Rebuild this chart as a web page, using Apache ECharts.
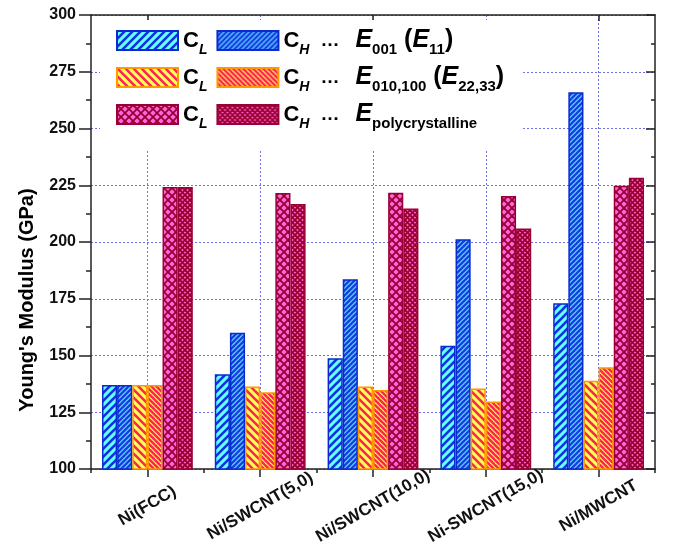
<!DOCTYPE html>
<html>
<head>
<meta charset="utf-8">
<script src="https://cdn.jsdelivr.net/npm/echarts@6/dist/echarts.min.js"></script>
<style>
html,body{margin:0;padding:0;background:#fff;}
#chart{width:674px;height:553px;}
</style>
</head>
<body>
<div id="chart"></div>
<script>
// ---- data ----
const categories = ['Ni(FCC)', 'Ni/SWCNT(5,0)', 'Ni/SWCNT(10,0)', 'Ni-SWCNT(15,0)', 'Ni/MWCNT'];
const e001_CL = [137, 141.7, 148.8, 154.3, 173.0];
const e001_CH = [137, 160.0, 183.6, 201.2, 266.0];
const e010_CL = [137, 136.3, 136.3, 135.5, 138.9];
const e010_CH = [137, 133.8, 134.8, 129.7, 144.8];
const poly_CL = [224.2, 221.6, 221.7, 220.3, 224.8];
const poly_CH = [224.2, 216.7, 214.8, 206.0, 228.3];
const yTicks = { min: 100, max: 300, step: 25 };
const seriesNames = ['CL_001', 'CH_001', 'CL_010', 'CH_010', 'CL_poly', 'CH_poly'];

// ---- patterns ----
function tile(p, bg, fg, lw, dirs) {
  const c = document.createElement('canvas');
  c.width = p; c.height = p;
  const g = c.getContext('2d');
  g.fillStyle = bg; g.fillRect(0, 0, p, p);
  g.strokeStyle = fg; g.lineWidth = lw; g.lineCap = 'square';
  dirs.forEach(d => {
    [-p, 0, p].forEach(k => {
      g.beginPath();
      if (d === '/') { g.moveTo(k, p); g.lineTo(k + p, 0); }
      else { g.moveTo(k, 0); g.lineTo(k + p, p); }
      g.stroke();
    });
  });
  return { image: c, repeat: 'repeat' };
}
const pats = [
  tile(8, '#66ffff', '#1133dd', 2.6, ['/']),
  tile(5, '#55ccff', '#1a3ae0', 2.2, ['/']),
  tile(8, '#ffff55', '#ff2255', 2.6, ['\\']),
  tile(5, '#ffee55', '#ff2255', 2.3, ['\\']),
  tile(8, '#ff66dd', '#990033', 1.8, ['/', '\\']),
  tile(5, '#ff66cc', '#990033', 1.8, ['/', '\\'])
];
const borders = ['#0a2ad0', '#0a2ad0', '#ff9900', '#ff9900', '#990033', '#990033'];
const values = [e001_CL, e001_CH, e010_CL, e010_CH, poly_CL, poly_CH];

const FONT = "'Liberation Sans', Arial, sans-serif";
const GRID = '#6f6fee';

const rich = {
  c: { fontFamily: FONT, fontWeight: 'bold', fontSize: 22, lineHeight: 34, color: '#000' },
  s: { fontFamily: FONT, fontWeight: 'bold', fontStyle: 'italic', fontSize: 14, lineHeight: 12, verticalAlign: 'bottom', color: '#000' },
  d: { fontFamily: FONT, fontWeight: 'bold', fontSize: 19, lineHeight: 34, padding: [0, 16, 0, 11], color: '#000' },
  e: { fontFamily: FONT, fontWeight: 'bold', fontStyle: 'italic', fontSize: 25, lineHeight: 34, color: '#000' },
  n: { fontFamily: FONT, fontWeight: 'bold', fontSize: 15, lineHeight: 10, verticalAlign: 'bottom', color: '#000' },
  p: { fontFamily: FONT, fontWeight: 'bold', fontSize: 25, lineHeight: 34, color: '#000' }
};
const legendText = {
  CL_001: '{c|C}{s|L}', CL_010: '{c|C}{s|L}', CL_poly: '{c|C}{s|L}',
  CH_001: '{c|C}{s|H}{d|…}{e|E}{n|001}{p| (}{e|E}{n|11}{p|)}',
  CH_010: '{c|C}{s|H}{d|…}{e|E}{n|010,100}{p| (}{e|E}{n|22,33}{p|)}',
  CH_poly: '{c|C}{s|H}{d|…}{e|E}{n|polycrystalline}'
};
function mkLegend(top, names) {
  return {
    left: 116, top: top, orient: 'horizontal', padding: 0,
    icon: 'rect',
    itemWidth: 61, itemHeight: 19, itemGap: 9, selectedMode: false,
    data: names, formatter: n => legendText[n],
    textStyle: { rich: rich, fontFamily: FONT }
  };
}

const chart = echarts.init(document.getElementById('chart'), null, { renderer: 'canvas' });
const option = {
  animation: false,
  backgroundColor: '#fff',
  grid: { left: 91, right: 19, top: 15, bottom: 84, containLabel: false },
  graphic: [{ type: 'rect', z: 1, shape: { x: 100, y: 20, width: 423, height: 130 }, style: { fill: '#fff' } }],
  legend: [
    mkLegend(28, [seriesNames[0], seriesNames[1]]),
    mkLegend(65, [seriesNames[2], seriesNames[3]]),
    mkLegend(102, [seriesNames[4], seriesNames[5]])
  ],
  xAxis: [
    {
      type: 'category', data: categories, position: 'bottom',
      axisLine: { show: true, lineStyle: { color: '#222', width: 1.5 } },
      axisTick: { show: false },
      axisLabel: { interval: 0, rotate: 30, align: 'center', verticalAlign: 'middle', margin: 37,
        fontFamily: FONT, fontWeight: 'bold', fontSize: 17, color: '#111' },
      splitLine: { show: false }
    },
    {
      type: 'value', min: 0, max: categories.length, interval: 1, position: 'bottom',
      axisLine: { show: false },
      axisTick: { show: true, length: 4, lineStyle: { color: '#222', width: 1.5 } },
      minorTick: { show: true, splitNumber: 2, length: 8, lineStyle: { color: '#222', width: 1.5 } },
      axisLabel: { show: false },
      splitLine: { show: false },
      minorSplitLine: { show: true, lineStyle: { color: GRID, width: 1, type: [2, 2] } }
    },
    {
      type: 'category', data: categories, position: 'top',
      axisLine: { show: true, lineStyle: { color: '#222', width: 1.5 } },
      axisTick: { show: true, inside: true, alignWithLabel: true, length: 6, lineStyle: { color: '#222', width: 1.5 } },
      axisLabel: { show: false },
      splitLine: { show: false }
    }
  ],
  yAxis: [
    {
      type: 'value', min: yTicks.min, max: yTicks.max, interval: yTicks.step, position: 'left',
      name: "Young's Modulus (GPa)", nameLocation: 'middle', nameGap: 54,
      nameTextStyle: { fontFamily: FONT, fontWeight: 'bold', fontSize: 20, color: '#000', padding: [0, 116, 0, 0] },
      axisLine: { show: true, lineStyle: { color: '#222', width: 1.5 } },
      axisTick: { show: true, length: 12, lineStyle: { color: '#222', width: 1.5 } },
      minorTick: { show: true, splitNumber: 2, length: 5, lineStyle: { color: '#222', width: 1.5 } },
      axisLabel: { margin: 15, fontFamily: FONT, fontWeight: 'bold', fontSize: 16, color: '#111' },
      splitLine: { show: true, lineStyle: { color: GRID, width: 1, type: [2, 2] } }
    },
    {
      type: 'value', min: yTicks.min, max: yTicks.max, interval: yTicks.step, position: 'right',
      axisLine: { show: true, lineStyle: { color: '#222', width: 1.5 } },
      axisTick: { show: true, inside: true, length: 9, lineStyle: { color: '#222', width: 1.5 } },
      minorTick: { show: true, splitNumber: 2, length: 4, lineStyle: { color: '#222', width: 1.5 } },
      axisLabel: { show: false },
      splitLine: { show: false }
    }
  ],
  series: seriesNames.map((n, i) => ({
    name: n, type: 'bar', xAxisIndex: 0, yAxisIndex: 0,
    data: values[i], barGap: '0%', barCategoryGap: '19.5%',
    itemStyle: { color: pats[i], borderColor: borders[i], borderWidth: 1.5 },
    emphasis: { disabled: true }
  }))
};
chart.setOption(option);
</script>
</body>
</html>
